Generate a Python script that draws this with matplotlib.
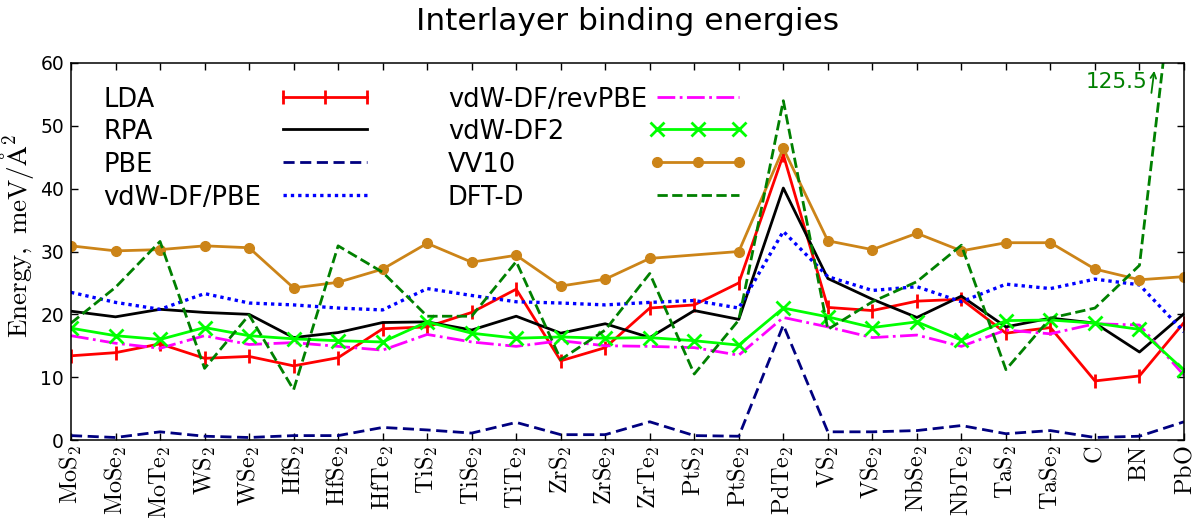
import numpy as np
import matplotlib
matplotlib.use('Agg')
import matplotlib.pyplot as plt

plt.rcParams['mathtext.fontset'] = 'cm'

materials = ['MoS_2', 'MoSe_2', 'MoTe_2', 'WS_2', 'WSe_2', 'HfS_2', 'HfSe_2', 'HfTe_2',
             'TiS_2', 'TiSe_2', 'TiTe_2', 'ZrS_2', 'ZrSe_2', 'ZrTe_2', 'PtS_2', 'PtSe_2',
             'PdTe_2', 'VS_2', 'VSe_2', 'NbSe_2', 'NbTe_2', 'TaS_2', 'TaSe_2', 'C', 'BN', 'PbO']

# binding energies, meV/A^2
lda = [13.4, 13.9, 15.3, 13.0, 13.3, 11.8, 13.1, 17.7, 18.0, 20.3, 24.0, 12.6, 14.7,
       21.0, 21.5, 25.0, 45.4, 21.1, 20.6, 22.1, 22.4, 17.0, 17.9, 9.4, 10.2, 18.7]
rpa = [20.5, 19.6, 20.8, 20.3, 20.0, 16.3, 17.1, 18.7, 18.8, 17.5, 19.7, 17.0, 18.5,
       16.3, 20.6, 19.2, 40.1, 25.7, 22.4, 19.5, 22.9, 18.0, 19.4, 18.6, 14.0, 20.1]
pbe = [0.7, 0.4, 1.3, 0.6, 0.4, 0.7, 0.7, 2.0, 1.6, 1.1, 2.8, 0.85, 0.85,
       2.9, 0.7, 0.6, 18.3, 1.3, 1.3, 1.5, 2.3, 1.0, 1.5, 0.4, 0.6, 2.9]
vdw_pbe = [23.5, 21.9, 20.8, 23.3, 21.8, 21.5, 21.0, 20.7, 24.1, 23.0, 22.0, 21.8, 21.5,
           21.9, 22.2, 21.0, 33.2, 26.0, 23.8, 24.4, 22.0, 24.8, 24.1, 25.6, 24.7, 17.2]
vdw_revpbe = [16.6, 15.4, 14.6, 16.6, 15.2, 15.5, 14.9, 14.3, 16.8, 15.6, 14.9, 15.8, 15.0,
              14.9, 14.7, 13.5, 19.5, 18.0, 16.3, 16.7, 14.9, 17.5, 16.9, 18.5, 18.3, 10.3]
vdw_df2 = [17.8, 16.6, 16.0, 17.9, 16.6, 16.1, 15.8, 15.6, 18.8, 17.0, 16.2, 16.4, 16.2,
           16.3, 15.8, 15.1, 21.0, 19.6, 17.9, 18.8, 15.9, 19.0, 19.1, 18.6, 17.6, 11.1]
vv10 = [30.9, 30.1, 30.3, 30.9, 30.6, 24.2, 25.1, 27.2, 31.3, 28.3, 29.4, 24.5, 25.6,
        28.9, np.nan, 30.0, 46.4, 31.7, 30.3, 32.9, 30.1, 31.4, 31.4, 27.2, 25.5, 26.0]
dftd = [18.6, 24.3, 31.6, 11.4, 19.9, 8.0, 30.9, 26.7, 19.7, 19.7, 28.4, 12.8, 17.5,
        26.5, 10.5, 19.1, 54.0, 17.6, 22.0, 25.2, 31.0, 11.2, 19.4, 21.0, 27.8, 88.5]
dftd_pbo_label = '125.5'

x = np.arange(len(materials))

series = [
    ('LDA', lda, dict(color='#ff0000', ls='-', marker='|', ms=10, mew=2)),
    ('RPA', rpa, dict(color='black', ls='-')),
    ('PBE', pbe, dict(color='#000080', ls=(0, (4, 2)))),
    ('vdW-DF/PBE', vdw_pbe, dict(color='#0000ff', ls=(0, (1, 1.2)), lw=2.4)),
    ('vdW-DF/revPBE', vdw_revpbe, dict(color='#ff00ff', ls='-.')),
    ('vdW-DF2', vdw_df2, dict(color='#00ff00', ls='-', marker='x', ms=10, mew=2)),
    ('VV10', vv10, dict(color='#cc8418', ls='-', marker='o', ms=7)),
    ('DFT-D', dftd, dict(color='green', ls='--')),
]

fig = plt.figure(figsize=(11.97, 5.18), dpi=100)
ax = fig.add_axes([71 / 1197, 1 - 440 / 518, 1113 / 1197, 377 / 518])

for name, vals, style in series:
    st = dict(lw=2)
    st.update(style)
    vals = np.asarray(vals, dtype=float)
    ok = ~np.isnan(vals)  # missing points are bridged, as in the original
    ax.plot(x[ok], vals[ok], **st)

ax.set_xlim(0, len(materials) - 1)
ax.set_ylim(0, 60)
ax.set_yticks(np.arange(0, 61, 10))
ax.set_xticks(x)
ax.tick_params(direction='in', top=True, right=True, length=5, width=1)
ax.tick_params(axis='y', labelsize=13.5, pad=5)
ax.tick_params(axis='x', pad=4, labelsize=17.5)
ax.set_xticklabels([r'$\mathrm{%s}$' % m for m in materials], rotation=90)
for sp in ax.spines.values():
    sp.set_linewidth(1.1)

ax.set_ylabel(r'$\mathrm{Energy,\ meV/\AA^2}$', fontsize=19.5)
ax.yaxis.set_label_coords(-0.031, 0.54)
ax.set_title('Interlayer binding energies', fontsize=22.5, pad=24)

# annotation for the off-scale DFT-D value of PbO
ax.text(24.17, 57.0, dftd_pbo_label, color='green', fontsize=15.5, ha='right', va='center')
ax.annotate('', xy=(24.34, 59.2), xytext=(24.26, 54.8),
            arrowprops=dict(arrowstyle='->', color='green', lw=1.3))

# legend drawn by hand: label on the left, handle on the right
tr = ax.transAxes
col_text = [0.0288, 0.3387]
col_handle = [(0.1905, 0.2659), (0.5265, 0.6002)]
row_y = [0.9098, 0.8249, 0.7374, 0.6499]
for i, (name, vals, style) in enumerate(series):
    c, r = divmod(i, 4)
    y = row_y[r]
    ax.text(col_text[c], y - 0.0265, name, transform=tr, fontsize=18.5, ha='left', va='baseline')
    x0, x1 = col_handle[c]
    st = dict(lw=2)
    st.update(style)
    if 'marker' in style:
        ax.plot([x0, (x0 + x1) / 2, x1], [y, y, y], transform=tr, clip_on=False, **st)
    else:
        ax.plot([x0, x1], [y, y], transform=tr, clip_on=False, **st)

fig.savefig('out.png', dpi=100)
